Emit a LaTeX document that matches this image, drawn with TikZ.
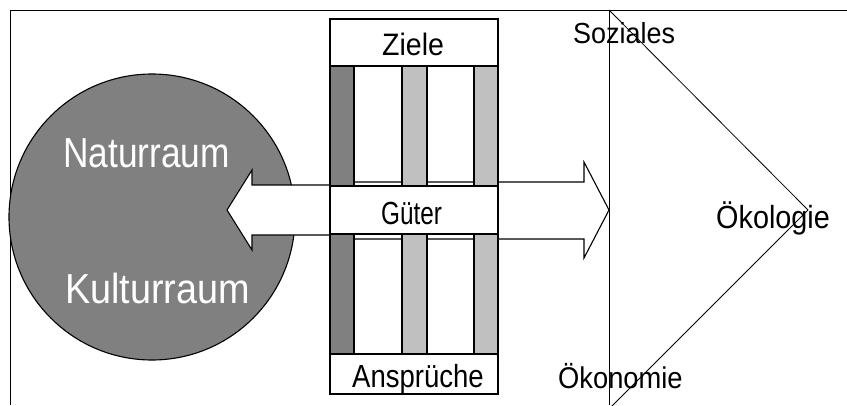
\documentclass[tikz,border=0pt]{standalone}
\usepackage{fontspec}
\setmainfont{Liberation Sans}
\usepackage{graphicx}
\newcommand{\narrow}[2]{\scalebox{#1}[1]{#2}}
\definecolor{midgray}{RGB}{128,128,128}
\definecolor{lightgray}{RGB}{192,192,192}
\begin{document}
\begin{tikzpicture}[x=1pt,y=-1pt,
    line join=miter,
    frame/.style={draw=black, line width=0.8pt},
    outline/.style={draw=black, line width=1.1pt},
    lbl/.style={inner sep=0pt, anchor=base west, text=black},
    biglbl/.style={inner sep=0pt, anchor=base west, text=white,
      font=\fontsize{42pt}{48pt}\selectfont}]
  \useasboundingbox (0,0) rectangle (847,405);

  % outer frame (top and left edge)
  \draw[frame] (847,10) -- (10,10) -- (10,405);

  % the region circle
  \node[circle, outline, fill=midgray, minimum size=286pt, inner sep=0pt] (raum) at (152,217) {};
  \node[biglbl] (natur) at (63,167) {\narrow{0.84}{Naturraum}};
  \node[biglbl] (kultur) at (65,303) {\narrow{0.9}{Kulturraum}};

  % goods flowing in both directions
  \draw[outline, fill=white] (498,185) -- (252,185) -- (252,170) -- (227,210)
    -- (252,250) -- (252,235) -- (498,235) -- cycle;
  \draw[outline, fill=white] (330,182) -- (584,182) -- (584,162) -- (609,210)
    -- (584,258) -- (584,239) -- (330,239) -- cycle;

  % column of goals and claims
  \draw[outline, fill=midgray] (330,66) rectangle (354,354);
  \draw[outline] (354,66) rectangle (402,354);
  \draw[outline, fill=lightgray] (402,66) rectangle (427,354);
  \draw[outline] (427,66) rectangle (474,354);
  \draw[outline, fill=lightgray] (474,66) rectangle (498,354);
  \draw[outline, fill=white] (330,19) rectangle (498,66);
  \draw[outline, fill=white] (330,186) rectangle (498,234);
  \draw[outline, fill=white] (330,354) rectangle (498,394);

  \node[lbl, font=\fontsize{31pt}{36pt}\selectfont] (ziele) at (382,55) {\narrow{0.92}{Ziele}};
  \node[lbl, font=\fontsize{32pt}{36pt}\selectfont] (gueter) at (381,224) {\narrow{0.76}{Güter}};
  \node[lbl, font=\fontsize{32pt}{36pt}\selectfont] (ansprueche) at (352,387) {\narrow{0.86}{Ansprüche}};

  % sustainability triangle
  \draw[frame] (609,10) -- (609,405);
  \draw[frame] (609,10) -- (808,210) -- (609,409);

  \node[lbl, font=\fontsize{29pt}{34pt}\selectfont] (sozial) at (573,43) {\narrow{0.93}{Soziales}};
  \node[lbl, font=\fontsize{32pt}{36pt}\selectfont] (oeko) at (716,228) {\narrow{0.9}{Ökologie}};
  \node[lbl, font=\fontsize{30pt}{36pt}\selectfont] (oekon) at (558,388) {\narrow{0.91}{Ökonomie}};
\end{tikzpicture}
\end{document}
